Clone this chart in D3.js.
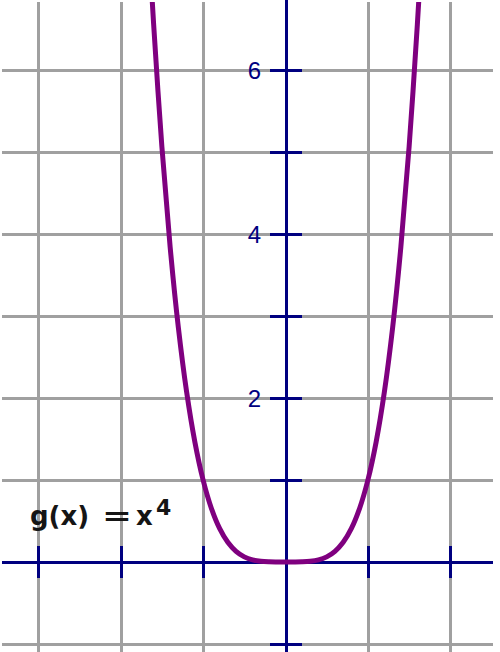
<!DOCTYPE html>
<html>
<head>
<meta charset="utf-8">
<script src="https://cdn.jsdelivr.net/npm/d3@7"></script>
<style>
  html, body { margin: 0; padding: 0; background: #fff; }
  svg { display: block; }
</style>
</head>
<body>
<script>
// ---- data ----
const gridX = [-3, -2, -1, 0, 1, 2];
const gridY = [-1, 0, 1, 2, 3, 4, 5, 6];
const xTicks = [-3, -2, -1, 1, 2];
const yTicks = [-1, 1, 2, 3, 4, 5, 6];
const yLabels = [2, 4, 6];
const curveX = [-1.66, -1.6, -1.5, -1.4, -1.3, -1.2, -1.1, -1.0, -0.9, -0.8, -0.7, -0.6, -0.5, -0.4, -0.3, -0.2, -0.1, 0,
                 0.1, 0.2, 0.3, 0.4, 0.5, 0.6, 0.7, 0.8, 0.9, 1.0, 1.1, 1.2, 1.3, 1.4, 1.5, 1.6, 1.66];
const curveY = [7.59, 6.5536, 5.0625, 3.8416, 2.8561, 2.0736, 1.4641, 1.0, 0.6561, 0.4096, 0.2401, 0.1296, 0.0625, 0.0256, 0.0081, 0.0016, 0.0001, 0,
                0.0001, 0.0016, 0.0081, 0.0256, 0.0625, 0.1296, 0.2401, 0.4096, 0.6561, 1.0, 1.4641, 2.0736, 2.8561, 3.8416, 5.0625, 6.5536, 7.59];

(function () {
const W = 500, H = 652;
const svg = d3.select("body").append("svg").attr("width", W).attr("height", H);

const x = d3.scaleLinear().domain([-3, 2]).range([38.3, 450.3]);
const y = d3.scaleLinear().domain([-1, 6]).range([644, 70]);

const pL = 2, pR = 493, pT = 2, pB = 652;

svg.append("defs").append("clipPath").attr("id", "clip")
  .append("rect").attr("x", pL).attr("y", pT).attr("width", pR - pL).attr("height", pB - pT);

const grid = svg.append("g").attr("stroke", "#a0a0a0").attr("stroke-width", 3).attr("shape-rendering", "crispEdges");
grid.selectAll("line.v").data(gridX.filter(d => d !== 0)).join("line")
  .attr("x1", d => Math.round(x(d))).attr("x2", d => Math.round(x(d)))
  .attr("y1", pT).attr("y2", pB);
grid.selectAll("line.h").data(gridY.filter(d => d !== 0)).join("line")
  .attr("y1", d => Math.round(y(d))).attr("y2", d => Math.round(y(d)))
  .attr("x1", pL).attr("x2", pR);

const axisColor = "#000080";
const ax = svg.append("g").attr("stroke", axisColor).attr("stroke-width", 3).attr("shape-rendering", "crispEdges");
ax.append("line").attr("x1", pL).attr("x2", pR)
  .attr("y1", Math.round(y(0))).attr("y2", Math.round(y(0)));
ax.append("line").attr("x1", Math.round(x(0))).attr("x2", Math.round(x(0)))
  .attr("y1", 0).attr("y2", pB);
ax.selectAll("line.xt").data(xTicks).join("line")
  .attr("x1", d => Math.round(x(d))).attr("x2", d => Math.round(x(d)))
  .attr("y1", Math.round(y(0)) - 16).attr("y2", Math.round(y(0)) + 16);
ax.selectAll("line.yt").data(yTicks).join("line")
  .attr("y1", d => Math.round(y(d))).attr("y2", d => Math.round(y(d)))
  .attr("x1", Math.round(x(0)) - 16).attr("x2", Math.round(x(0)) + 16);

svg.append("g").selectAll("text").data(yLabels).join("text")
  .attr("x", Math.round(x(0)) - 25)
  .attr("y", d => y(d) + 9)
  .attr("text-anchor", "end")
  .attr("font-family", "'Liberation Sans', Arial, sans-serif")
  .attr("font-size", 24)
  .attr("fill", axisColor)
  .text(d => d);

const pts = curveX.map((v, i) => [v, curveY[i]]);
const line = d3.line().x(d => x(d[0])).y(d => y(d[1])).curve(d3.curveCatmullRom);
svg.append("path").attr("clip-path", "url(#clip)")
  .datum(pts)
  .attr("d", line)
  .attr("fill", "none")
  .attr("stroke", "#7f007f")
  .attr("stroke-width", 5)
  .attr("stroke-linejoin", "round");

const lbl = svg.append("g").attr("fill", "#151515")
  .attr("font-family", "'DejaVu Sans', Verdana, sans-serif").attr("font-weight", "bold");
lbl.append("text").attr("x", 30).attr("y", 525).attr("font-size", 26).text("g(x)");
lbl.append("text").attr("x", 102).attr("y", 525).attr("font-size", 26)
  .attr("textLength", 30).attr("lengthAdjust", "spacingAndGlyphs").text("=");
lbl.append("text").attr("x", 136).attr("y", 525).attr("font-size", 26).text("x");
lbl.append("text").attr("x", 156).attr("y", 515).attr("font-size", 22).text("4");
})();
</script>
</body>
</html>
